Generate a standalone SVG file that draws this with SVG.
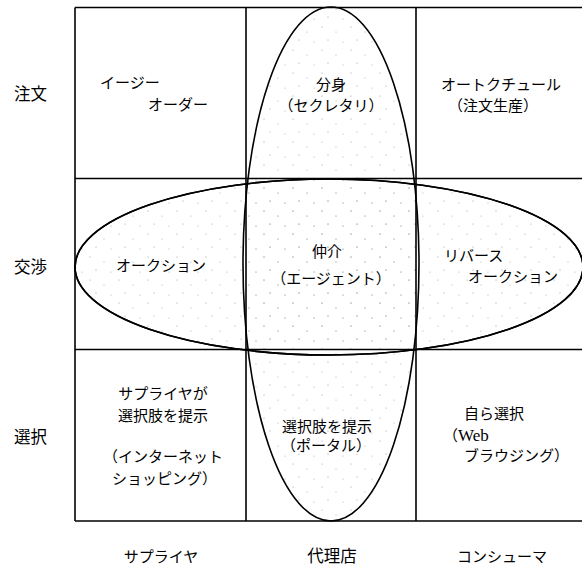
<svg xmlns="http://www.w3.org/2000/svg" width="582" height="566" viewBox="0 0 582 566">
<style>
text { font-family: "Noto Sans CJK JP", "Noto Sans", sans-serif; font-size: 15px; fill: #000; }
.ax { font-size: 16.5px; }
.w { font-family: "Liberation Serif", "Noto Sans CJK JP", serif; font-size: 17px; }
.m { text-anchor: middle; }
.grid line { stroke: #000; stroke-width: 1.6; }
.ell { fill: url(#dots); stroke: #000; stroke-width: 1.6; }
</style>
<defs>
<pattern id="dots" width="29" height="23" patternUnits="userSpaceOnUse">
<circle cx="3" cy="4" r="0.6" fill="#999"/>
<circle cx="17" cy="9" r="0.6" fill="#aaa"/>
<circle cx="9" cy="17" r="0.6" fill="#999"/>
<circle cx="24" cy="19" r="0.6" fill="#aaa"/>
</pattern>
</defs>
<rect width="582" height="566" fill="#fff"/>
<g id="connectors">
<g id="ellipses">
<ellipse class="ell" cx="329" cy="267" rx="254" ry="88"/>
<ellipse class="ell" cx="331" cy="264" rx="88" ry="257"/>
<ellipse cx="329" cy="267" rx="254" ry="88" fill="none" stroke="#000" stroke-width="1.6"/>
</g>
<g class="grid">
<line x1="75" y1="7.5" x2="582" y2="7.5"/>
<line x1="75" y1="178.5" x2="582" y2="178.5"/>
<line x1="75" y1="349.5" x2="582" y2="349.5"/>
<line x1="75" y1="521" x2="582" y2="521"/>
<line x1="75" y1="7.5" x2="75" y2="521"/>
<line x1="246" y1="7.5" x2="246" y2="521"/>
<line x1="416" y1="7.5" x2="416" y2="521"/>
</g>
</g>
<g id="row-labels">
<text class="ax" x="14" y="100">注文</text>
<text class="ax" x="14" y="273">交渉</text>
<text class="ax" x="14" y="443">選択</text>
</g>
<g id="col-labels">
<text class="m" x="161" y="562">サプライヤ</text>
<text class="m ax" x="332" y="562">代理店</text>
<text class="m" x="502" y="562">コンシューマ</text>
</g>
<g id="easy-order">
<text x="100" y="88">イージー</text>
<text x="148" y="110">オーダー</text>
</g>
<g id="secretary">
<text class="m" x="331" y="90">分身</text>
<text class="m" x="331" y="111">（セクレタリ）</text>
</g>
<g id="couture">
<text x="441" y="90">オートクチュール</text>
<text x="448" y="111">（注文生産）</text>
</g>
<g id="auction">
<text x="116" y="271">オークション</text>
</g>
<g id="agent">
<text class="m" x="327" y="257">仲介</text>
<text class="m" x="331" y="284">（エージェント）</text>
</g>
<g id="reverse-auction">
<text x="444" y="261">リバース</text>
<text x="468" y="282">オークション</text>
</g>
<g id="supplier-choice">
<text class="m" x="163" y="399">サプライヤが</text>
<text class="m" x="163" y="421">選択肢を提示</text>
<text x="103" y="462">（インターネット</text>
<text x="112" y="484">ショッピング）</text>
</g>
<g id="portal">
<text class="m" x="327" y="432">選択肢を提示</text>
<text class="m" x="326" y="451">（ポータル）</text>
</g>
<g id="self-choice">
<text x="464" y="419">自ら選択</text>
<text x="443" y="441">（<tspan class="w">Web</tspan></text>
<text x="464" y="461">ブラウジング）</text>
</g>
</svg>
